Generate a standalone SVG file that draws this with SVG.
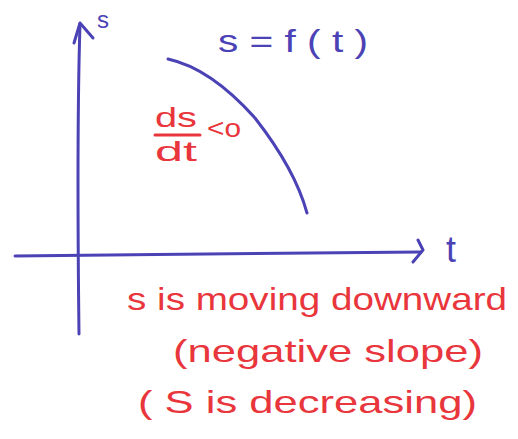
<svg xmlns="http://www.w3.org/2000/svg" width="518" height="439" viewBox="0 0 518 439">
<style>
.ax{fill:none;stroke:#4b42b6;stroke-width:3;stroke-linecap:round;stroke-linejoin:round}
.bt{fill:#4b42b6;font-family:"Liberation Sans",Arial,sans-serif}
.rt{fill:#e8363c;font-family:"Liberation Sans",Arial,sans-serif}
.rl{fill:none;stroke:#e8363c;stroke-width:3;stroke-linecap:round}
</style>
<rect width="518" height="439" fill="#ffffff"/>
<g id="connectors">
<path class="ax" d="M79 334 C78 250 77 120 80 24"/>
<path class="ax" d="M74 43 L80 23 L93 38"/>
<path class="ax" d="M15 256 C150 254 300 254 421 252"/>
<path class="ax" d="M418 240 L423 250 L413 262"/>
</g>
<g id="curve">
<path class="ax" d="M168 59 C200 66 230 90 255 118 C280 150 298 180 307 213"/>
</g>
<g id="axis-labels">
<text class="bt" x="97" y="28" font-size="24">s</text>
<text class="bt" x="446" y="262" font-size="36">t</text>
<text class="bt" x="218" y="52" font-size="32" textLength="150" lengthAdjust="spacingAndGlyphs">s = f ( t )</text>
</g>
<g id="derivative">
<text class="rt" x="155" y="127" font-size="28" textLength="42" lengthAdjust="spacingAndGlyphs">ds</text>
<line class="rl" x1="155" y1="135" x2="200" y2="135"/>
<text class="rt" x="155" y="161" font-size="28" textLength="42" lengthAdjust="spacingAndGlyphs">dt</text>
<text class="rt" x="207" y="137" font-size="26" textLength="34" lengthAdjust="spacingAndGlyphs">&lt;o</text>
</g>
<g id="notes">
<text class="rt" x="127" y="310" font-size="32" textLength="380" lengthAdjust="spacingAndGlyphs">s is moving downward</text>
<text class="rt" x="173" y="362" font-size="32" textLength="310" lengthAdjust="spacingAndGlyphs">(negative slope)</text>
<text class="rt" x="138" y="413" font-size="32" textLength="339" lengthAdjust="spacingAndGlyphs">( S is decreasing)</text>
</g>
</svg>
